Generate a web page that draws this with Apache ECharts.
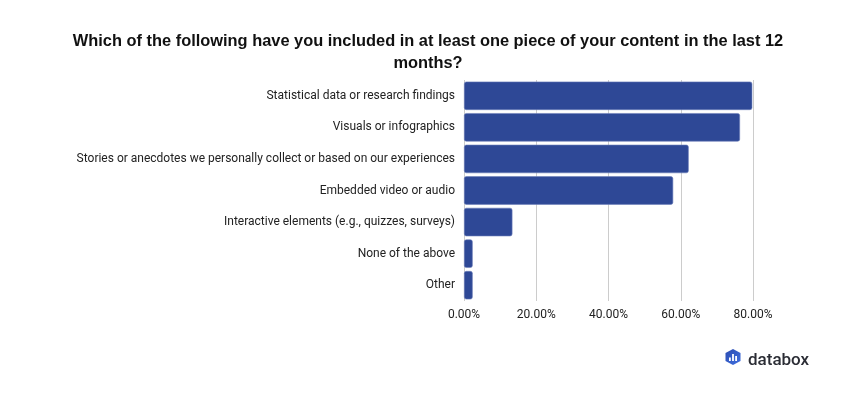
<!DOCTYPE html>
<html>
<head>
<meta charset="utf-8">
<script src="https://cdn.jsdelivr.net/npm/echarts@6/dist/echarts.min.js"></script>
<style>html,body{margin:0;padding:0;background:#fff}#c{width:850px;height:400px}</style>
</head>
<body>
<div id="c"></div>
<script>
const categories = [
  "Statistical data or research findings",
  "Visuals or infographics",
  "Stories or anecdotes we personally collect or based on our experiences",
  "Embedded video or audio",
  "Interactive elements (e.g., quizzes, surveys)",
  "None of the above",
  "Other"
];
const values = [79.8, 76.4, 62.2, 57.9, 13.4, 2.4, 2.4];
const tickValues = [0, 20, 40, 60, 80];
const titleText = "Which of the following have you included in at least one piece of your content in the last 12\nmonths?";

const chart = echarts.init(document.getElementById('c'), null, {renderer: 'canvas'});
chart.setOption({
  animation: false,
  title: {
    text: titleText,
    left: 423,
    top: 25,
    textAlign: 'center',
    textStyle: {fontFamily: 'Liberation Sans', fontWeight: 'bold', fontSize: 16.4, color: '#111', lineHeight: 22}
  },
  grid: {left: 464, right: 97, top: 80, bottom: 99, containLabel: false},
  xAxis: {
    type: 'value', min: 0, max: 80, interval: 20,
    axisLine: {show: false}, axisTick: {show: false},
    splitLine: {lineStyle: {color: '#cccccc', width: 1}},
    axisLabel: {fontFamily: 'Roboto', fontSize: 12, color: '#222', margin: 8,
      formatter: v => tickValues.includes(v) ? v.toFixed(2) + '%' : ''}
  },
  yAxis: {
    type: 'category', data: categories, inverse: true,
    axisLine: {show: false}, axisTick: {show: false},
    axisLabel: {fontFamily: 'Roboto', fontSize: 12, color: '#222', margin: 9}
  },
  series: [{
    type: 'bar', data: values, barCategoryGap: '10%',
    itemStyle: {color: '#2e4896', borderColor: '#6d80bb', borderWidth: 0.6, borderRadius: 2}
  }],
  graphic: [
    {
      type: 'polygon', shape: {points: [[725.5,353],[733,349],[740.5,353],[740.5,361],[733,365],[725.5,361]]},
      style: {fill: new echarts.graphic.LinearGradient(0, 0, 1, 1, [{offset: 0, color: '#2c4cb0'}, {offset: 1, color: '#3f6fe0'}])}
    },
    {type: 'rect', shape: {x: 729, y: 357.5, width: 1.8, height: 3.5}, style: {fill: '#fff'}},
    {type: 'rect', shape: {x: 732.1, y: 354, width: 1.8, height: 7}, style: {fill: '#fff'}},
    {type: 'rect', shape: {x: 735.2, y: 356, width: 1.8, height: 5}, style: {fill: '#fff'}},
    {
      type: 'text', left: 748, top: 352,
      style: {text: 'databox', fontFamily: 'Roboto', fontSize: 17, fontWeight: 500, fill: '#2b2d35'}
    }
  ]
});
</script>
</body>
</html>
